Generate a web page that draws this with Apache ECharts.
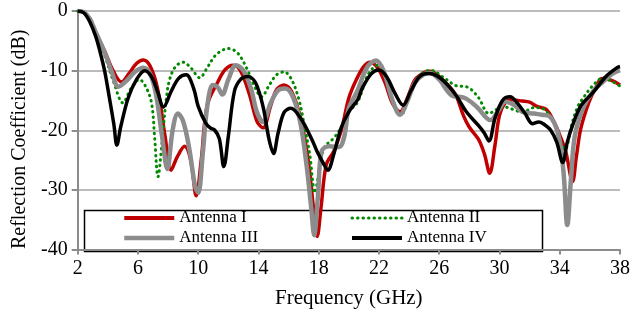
<!DOCTYPE html>
<html>
<head>
<meta charset="utf-8">
<script src="https://cdn.jsdelivr.net/npm/echarts@6/dist/echarts.min.js"></script>
<style>html,body{margin:0;padding:0;background:#fff}#c{width:633px;height:316px}</style>
</head>
<body>
<div id="c"></div>
<script>
const seriesNames = ['Antenna I', 'Antenna II', 'Antenna III', 'Antenna IV'];
const xTicks = [2, 6, 10, 14, 18, 22, 26, 30, 34, 38];
const yTicks = [0, -10, -20, -30, -40];

const freqI = [2.0,2.4,2.8,3.2,3.8,4.35,4.9,5.4,5.9,6.35,6.8,7.3,7.8,8.2,8.6,9.1,9.5,9.87,10.2,10.6,11.3,11.8,12.3,12.8,13.4,13.9,14.3,14.8,15.2,15.7,16.2,16.8,17.3,17.65,17.9,18.15,18.5,19.0,19.5,20.0,20.5,21.0,21.4,21.9,22.4,22.9,23.4,23.9,24.4,25.0,25.4,26.0,26.6,27.1,27.6,28.0,28.6,29.0,29.35,29.7,30.0,30.4,30.8,31.5,32.0,32.5,33.1,33.6,34.0,34.4,34.85,35.1,35.4,35.95,36.4,36.8,37.4,38.0];
const valI  = [0,-0.2,-1.3,-3.6,-6.8,-10,-11.9,-10.5,-8.8,-8.2,-9.2,-13,-21,-26.7,-24.5,-22.7,-25,-31,-25,-15.8,-11.9,-9.8,-9.1,-10,-14,-18.5,-19.6,-16,-13.2,-12.4,-13.5,-18,-25,-33,-37.8,-33,-25.8,-23.5,-20,-14.6,-11.5,-9.3,-8.6,-9.5,-12,-15.5,-16.9,-14.5,-11.5,-10.3,-10.1,-11,-12.5,-14.1,-17.5,-19.5,-21.5,-24,-27.2,-22.5,-17.5,-15.3,-14.9,-15.1,-15.3,-16,-16.5,-18.5,-20.8,-23.6,-28.6,-24.5,-19.7,-15.2,-12.8,-11.3,-11.6,-12.4];

const freqII = [2.0,2.4,2.8,3.2,3.8,4.4,5.0,5.55,6.1,6.5,6.9,7.1,7.33,7.6,7.85,8.1,8.5,9.0,9.5,10.1,10.6,11.2,12.0,12.6,13.2,13.8,14.2,14.7,15.2,15.7,16.2,16.7,17.0,17.4,17.75,17.95,18.35,19.0,19.5,20.0,20.55,21.0,21.3,21.9,22.4,23.0,23.45,24.0,24.5,25.0,25.5,26.2,27.1,27.9,28.6,29.3,29.8,30.3,31.0,31.5,32.3,32.9,33.3,33.7,34.35,34.8,35.2,35.55,36.2,36.9,37.4,38.0];
const valII  = [0,-0.3,-1.5,-3.8,-7.5,-12,-15.4,-12.9,-11.5,-12.6,-15.4,-21,-27.8,-22,-15.4,-11.5,-9.3,-8.6,-9.5,-11.2,-9.5,-7.3,-6.3,-7,-9.5,-13,-14.4,-12.5,-10.7,-10.2,-11.5,-15,-18.6,-24,-30.5,-28,-23,-21.3,-19.5,-16.9,-15.4,-12.5,-10.5,-9.1,-11,-15.5,-17.4,-14.5,-11.5,-10.2,-10.0,-11,-12.5,-12.8,-14.5,-17.2,-16.5,-16.1,-16.6,-17,-16.2,-16.4,-17.4,-19.2,-23.2,-19,-16,-14.6,-12.5,-11.2,-11.7,-12.6];

const freqIII = [2.0,2.4,2.8,3.2,3.8,4.3,4.7,5.2,5.8,6.35,6.8,7.2,7.6,7.95,8.3,8.65,9.0,9.4,9.8,10.0,10.3,10.6,10.97,11.3,11.6,12.0,12.5,13.0,13.5,13.9,14.3,14.8,15.3,15.8,16.3,16.8,17.2,17.5,17.7,17.95,18.2,18.7,19.35,19.7,20.0,20.55,21.2,21.8,22.3,22.9,23.4,23.9,24.4,25.0,25.4,26.0,26.8,27.7,28.5,29.4,29.9,30.4,31.0,31.5,32.3,32.8,33.3,33.9,34.25,34.5,34.75,35.0,35.55,36.2,36.9,37.5,38.0];
const valIII  = [0,-0.2,-1.3,-3.6,-7,-10.5,-12.7,-11.8,-10.2,-9.5,-10.5,-14,-21,-26.5,-20,-17.2,-18.5,-23,-29.5,-30.5,-24,-16,-12.4,-12.8,-14,-11.5,-9.1,-10,-13,-17,-18.6,-15.5,-13.3,-13,-14.5,-19,-26,-33,-37.6,-31,-23.5,-22.7,-22.8,-21,-16.3,-13.5,-9.5,-8.3,-10,-15,-17.4,-15,-12,-10.6,-10.4,-11.5,-14.1,-14.6,-16.1,-18.3,-16.8,-15.2,-15.8,-16.9,-17.2,-17.4,-17.6,-20.7,-27,-35.9,-28,-21,-16.3,-13.5,-11.8,-10.5,-9.9];

const freqIV = [2.0,2.4,2.8,3.2,3.5,3.8,4.1,4.4,4.6,4.85,5.35,5.9,6.45,6.9,7.3,7.7,8.2,8.7,9.2,9.7,10.0,10.5,10.8,11.1,11.4,11.7,12.0,12.4,12.8,13.3,13.8,14.3,14.7,15.0,15.3,15.7,16.15,16.8,17.5,17.9,18.3,18.6,19.0,19.5,20.0,20.6,20.9,21.5,22.0,22.5,23.1,23.6,24.1,24.7,25.3,25.8,26.4,27.1,27.8,28.6,29.0,29.3,29.7,30.2,30.7,31.2,31.7,32.2,32.6,32.9,33.4,33.8,34.2,34.5,34.85,35.4,36.2,37.1,37.8,38.0];
const valIV  = [0,-0.3,-1.8,-4.3,-7,-10.2,-14.5,-19,-22.5,-19.5,-14.6,-11.5,-10,-11,-13.5,-16.1,-13.5,-11.3,-10.7,-13,-16,-18.8,-19.6,-20,-21.4,-26.1,-21,-13.5,-11.5,-11,-12,-16,-21.5,-23.9,-20.5,-17,-16.3,-18,-21.3,-23.6,-25.5,-26.7,-24,-19.5,-16.9,-14.8,-12.9,-10.5,-9.9,-11,-14,-15.8,-13.5,-11,-10.5,-10.8,-12,-14.1,-16.9,-19.2,-20.5,-21.8,-18,-15,-14.4,-15.5,-17.2,-18.9,-18.6,-18.9,-20,-22,-25.4,-22,-19.2,-15.9,-13.7,-10.9,-9.5,-9.3];

const pair = (f, v) => f.map((x, i) => [x, v[i]]);

const FONT = '"Liberation Serif", "Times New Roman", serif';
const chart = echarts.init(document.getElementById('c'), null, {renderer: 'canvas'});

const legendCommon = {
  orient: 'vertical', itemWidth: 50, itemHeight: 14, itemGap: 0, padding: 0,
  textStyle: {fontFamily: FONT, fontSize: 17, color: '#000', height: 20, lineHeight: 20},
  itemStyle: {opacity: 0},
  selectedMode: false
};
const legendItem = (name, width) => ({name: name, lineStyle: {width: width}});

chart.setOption({
  animation: false,
  backgroundColor: '#fff',
  grid: {left: 77.7, right: 11, top: 11, bottom: 66.5, containLabel: false},
  xAxis: {
    type: 'value', min: xTicks[0], max: xTicks[xTicks.length - 1], interval: 4,
    name: 'Frequency (GHz)', nameLocation: 'middle', nameGap: 38,
    nameTextStyle: {fontFamily: FONT, fontSize: 21, color: '#000'},
    axisLine: {show: true, onZero: false, lineStyle: {color: '#8c8c8c', width: 2}},
    axisTick: {show: true, inside: false, length: 5, lineStyle: {color: '#8c8c8c', width: 2}},
    axisLabel: {fontFamily: FONT, fontSize: 20, color: '#000', margin: 9},
    splitLine: {show: false}
  },
  yAxis: {
    type: 'value', min: yTicks[yTicks.length - 1], max: yTicks[0], interval: 10,
    name: 'Reflection Coefficient (dB)', nameLocation: 'middle', nameGap: 42,
    nameTextStyle: {fontFamily: FONT, fontSize: 20, color: '#000', padding: [0, 18, 0, 0]},
    axisLine: {show: true, lineStyle: {color: '#8c8c8c', width: 2}},
    axisTick: {show: true, inside: false, length: 6, lineStyle: {color: '#8c8c8c', width: 2}},
    axisLabel: {fontFamily: FONT, fontSize: 20, color: '#000', margin: 10},
    splitLine: {show: true, lineStyle: {color: '#a6a6a6', width: 1.5}}
  },
  legend: [
    Object.assign({}, legendCommon, {data: [legendItem(seriesNames[0], 4), legendItem(seriesNames[2], 4.5)], left: 122, top: 208}),
    Object.assign({}, legendCommon, {data: [legendItem(seriesNames[1], 3), legendItem(seriesNames[3], 4)], left: 350, top: 208})
  ],
  graphic: [{
    type: 'rect', left: 82, top: 208, z: 0,
    shape: {width: 458, height: 41},
    style: {fill: 'none', stroke: '#000', lineWidth: 1.5}
  }],
  series: [
    {name: seriesNames[0], type: 'line', data: pair(freqI, valI), smooth: 0.35, symbol: 'none', z: 3,
     lineStyle: {color: '#c00000', width: 3.5}, itemStyle: {color: '#c00000'}},
    {name: seriesNames[1], type: 'line', data: pair(freqII, valII), smooth: 0.35, symbol: 'none', z: 4,
     lineStyle: {color: '#008a00', width: 3, type: [0.5, 5], cap: 'round'}, itemStyle: {color: '#008a00'}},
    {name: seriesNames[2], type: 'line', data: pair(freqIII, valIII), smooth: 0.35, symbol: 'none', z: 5,
     lineStyle: {color: '#8c8c8c', width: 4.5}, itemStyle: {color: '#8c8c8c'}},
    {name: seriesNames[3], type: 'line', data: pair(freqIV, valIV), smooth: 0.35, symbol: 'none', z: 6,
     lineStyle: {color: '#000', width: 3.5}, itemStyle: {color: '#000'}}
  ]
});
</script>
</body>
</html>
